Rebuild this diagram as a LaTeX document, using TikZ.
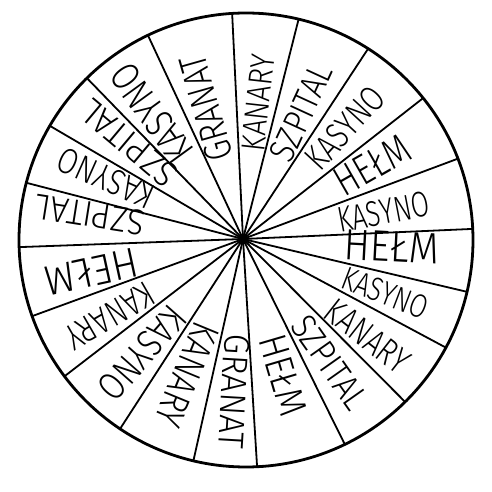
\documentclass[tikz,border=0pt]{standalone}
\usepackage{fontspec}
\setmainfont{Fira Sans}[UprightFont=* Light]
\usepackage{graphicx}
\usetikzlibrary{calc}
\begin{document}
\begin{tikzpicture}[x=1pt,y=1pt,
  spoke/.style={line width=1.8pt, line cap=round},
  rim/.style={line width=2.8pt},
  lbl/.style={inner sep=0pt, anchor=center}]
\useasboundingbox (0,0) rectangle (492,492);
\coordinate (c) at (246,252);
\coordinate (hub) at (243,253);
\foreach \a [count=\i] in {93.5,76.6,57.45,38.7,21.0,2.8,-13.2,-28.3,-45.5,-64.2,-87.2,256.6,236.3,216.9,199.6,181.8,165.4,149.8,134.5,115.6} {
  \coordinate (p\i) at ($(c)+(\a:227)$);
  \draw[spoke] (hub) -- (p\i);
}
\draw[rim] (c) circle (227);
\fill (hub) circle (5.5);
\foreach \a/\d/\w/\h/\t [count=\i] in {
  83.7/137/97/23/KANARY,
  65.3/139/103/25/SZPITAL,
  47.4/151/99/25/KASYNO,
  29.8/149/80/29/HEŁM,
  10.9/143/93/25/KASYNO,
  -3/149/95/30/HEŁM,
  -20.8/152/90/23/KASYNO,
  -38/158/96/25/KANARY,
  -54.8/151/106/25/SZPITAL,
  -73.6/142/83/27/HEŁM,
  266.6/153/115/25/GRANAT,
  247.6/147/108/27/KANARY,
  228.5/152/111/27/KASYNO,
  210/154/97/25/KANARY,
  192.3/155/95/29/HEŁM,
  171/155/110/25/SZPITAL,
  156/150/102/25/KASYNO,
  140/149/115/25/SZPITAL,
  126/155/112/28/KASYNO,
  105.8/136/108/27/GRANAT} {
  \node[lbl, rotate=\a] (l\i) at ($(hub)+(\a:\d)$) {\resizebox{\w pt}{\h pt}{\t}};
}
\end{tikzpicture}
\end{document}
